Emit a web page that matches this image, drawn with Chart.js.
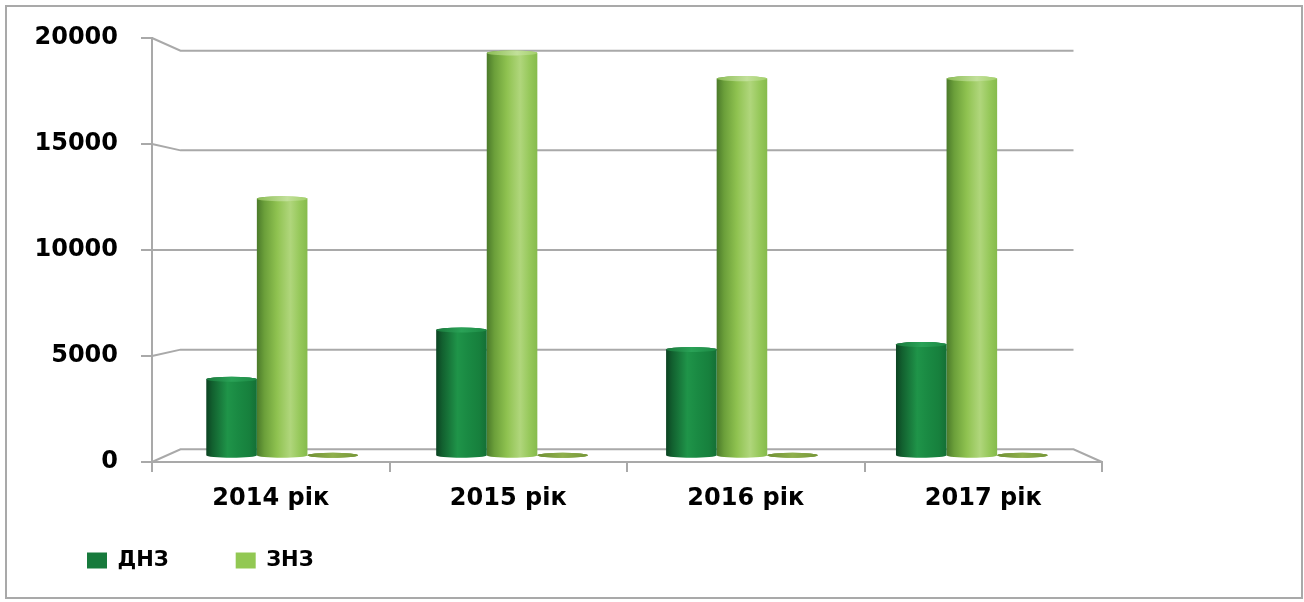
<!DOCTYPE html>
<html>
<head>
<meta charset="utf-8">
<script src="https://cdn.jsdelivr.net/npm/chart.js@4/dist/chart.umd.min.js"></script>
<style>
  html, body { margin: 0; padding: 0; background: #fff; }
  canvas { display: block; }
</style>
</head>
<body>
<canvas id="chart" width="1304" height="602"></canvas>
<script>
// Categories, series and tick labels
const categories = ['2014 рік', '2015 рік', '2016 рік', '2017 рік'];
const seriesNames = ['ДНЗ', 'ЗНЗ'];
const dnzValues = [3700, 6100, 5150, 5400];
const znzValues = [12500, 19600, 18350, 18350];
const extraValues = [0, 0, 0, 0];
const yTickValues = [0, 5000, 10000, 15000, 20000];

// Colours
const DNZ_COLOR = '#177a3c';
const ZNZ_COLOR = '#92c853';
const EXTRA_COLOR = '#7d9d3c';
const FRAME_COLOR = '#a9a9a9';
const FONT = 'DejaVu Sans';

// Cylinder shading (left to right)
const shading = {
  [DNZ_COLOR]: {
    body: [[0, '#0c4322'], [0.12, '#12602f'], [0.42, '#1f9449'], [0.62, '#1a8a43'], [0.85, '#17803d'], [1, '#146f35']],
    cap:  [[0, '#1a7a3d'], [0.5, '#2aa257'], [1, '#1d8a45']]
  },
  [ZNZ_COLOR]: {
    body: [[0, '#4b7a2a'], [0.15, '#6b9f3a'], [0.4, '#8fc250'], [0.66, '#b0d67c'], [0.85, '#96c85a'], [1, '#86bb4c']],
    cap:  [[0, '#8cbd55'], [0.6, '#c2e09a'], [1, '#a3d06a']]
  },
  [EXTRA_COLOR]: {
    body: [[0, '#6f8f33'], [0.5, '#8aab48'], [1, '#769638']],
    cap:  [[0, '#6f8f33'], [0.5, '#8fb04c'], [1, '#769638']]
  }
};

// Depth of the bar row and of the back wall relative to the front plane
const BAR_DEPTH = 0.968;
const BACK_DEPTH = 0.94;
const CAP_RY = 2.5;

// Legend geometry
const LEGEND_FONT_SIZE = 21;
const LEGEND_BOX_W = 20;
const LEGEND_BOX_H = 16;
const LEGEND_ROW_TOP = 550;
const LEGEND_FIRST_X = 87;
const LEGEND_SECOND_X = 236;
const measureCtx = document.createElement('canvas').getContext('2d');
measureCtx.font = 'bold ' + LEGEND_FONT_SIZE + 'px "' + FONT + '"';
const firstLegendTextW = measureCtx.measureText(seriesNames[0]).width;
const legendPad = Math.round(LEGEND_SECOND_X - LEGEND_FIRST_X - LEGEND_BOX_W - LEGEND_FONT_SIZE / 2 - firstLegendTextW);
const leftPad = LEGEND_FIRST_X - legendPad;

function gradient(ctx, left, right, stops) {
  const g = ctx.createLinearGradient(left, 0, right, 0);
  stops.forEach(([o, c]) => g.addColorStop(o, c));
  return g;
}

function drawCylinder(ctx, bar, color) {
  const { x, y, base, width } = bar.getProps(['x', 'y', 'base', 'width'], true);
  const rx = width / 2;
  const left = x - rx, right = x + rx;
  const shade = shading[color];
  const top = Math.min(y, base);
  ctx.save();
  ctx.fillStyle = gradient(ctx, left, right, shade.body);
  ctx.beginPath();
  ctx.moveTo(left, top);
  ctx.lineTo(left, base);
  ctx.ellipse(x, base, rx, CAP_RY, 0, Math.PI, 0, true);
  ctx.lineTo(right, top);
  ctx.ellipse(x, top, rx, CAP_RY, 0, 0, Math.PI, true);
  ctx.closePath();
  ctx.fill();
  ctx.fillStyle = gradient(ctx, left, right, shade.cap);
  ctx.beginPath();
  ctx.ellipse(x, top, rx, CAP_RY, 0, 0, Math.PI * 2);
  ctx.fill();
  ctx.restore();
}

// Frame: outer border, back wall gridlines and floor in perspective
const framePlugin = {
  id: 'frame3d',
  afterLayout(chart) {
    // keep the legend row at a fixed height below the category labels
    const lg = chart.legend;
    lg.top = LEGEND_ROW_TOP - legendPad;
    lg.bottom = chart.height;
    lg.height = lg.bottom - lg.top;
  },
  beforeDraw(chart) {
    const ctx = chart.ctx;
    ctx.save();
    ctx.fillStyle = '#ffffff';
    ctx.fillRect(0, 0, chart.width, chart.height);
    ctx.strokeStyle = FRAME_COLOR;
    ctx.lineWidth = 2;
    ctx.strokeRect(6, 6, chart.width - 8, chart.height - 10);
    ctx.restore();
  },
  beforeDatasetsDraw(chart) {
    const ctx = chart.ctx;
    const area = chart.chartArea;
    const yScale = chart.scales.y;
    const cx = (area.left + area.right) / 2;
    const cy = (area.top + area.bottom) / 2;
    const backL = cx + (area.left - cx) * BACK_DEPTH;
    const backR = cx + (area.right - cx) * BACK_DEPTH;
    ctx.save();
    ctx.strokeStyle = FRAME_COLOR;
    ctx.lineWidth = 2;
    yTickValues.forEach(v => {
      const yf = yScale.getPixelForValue(v);
      const yb = cy + (yf - cy) * BACK_DEPTH;
      ctx.beginPath();
      ctx.moveTo(area.left, yf);
      ctx.lineTo(backL, yb);
      ctx.lineTo(backR, yb);
      if (v === 0) ctx.lineTo(area.right, yf);
      ctx.stroke();
    });
    ctx.restore();
  },
  beforeDatasetDraw(chart, args) {
    const ds = chart.data.datasets[args.index];
    args.meta.data.forEach(bar => drawCylinder(chart.ctx, bar, ds.backgroundColor));
    return false;
  }
};

const toPoints = arr => arr.map((v, i) => ({ x: i, y: v }));
const halfX = (categories.length / 2) / BAR_DEPTH;
const midX = (categories.length - 1) / 2;
const midY = (yTickValues[0] + yTickValues[yTickValues.length - 1]) / 2;
const halfY = (yTickValues[yTickValues.length - 1] - yTickValues[0]) / 2 / BAR_DEPTH;

const barDefaults = { xAxisID: 'xb', yAxisID: 'yb', borderWidth: 0, categoryPercentage: 0.66, barPercentage: 1 };

new Chart(document.getElementById('chart'), {
  type: 'bar',
  data: {
    labels: categories,
    datasets: [
      { ...barDefaults, label: seriesNames[0], data: toPoints(dnzValues), backgroundColor: DNZ_COLOR },
      { ...barDefaults, label: seriesNames[1], data: toPoints(znzValues), backgroundColor: ZNZ_COLOR },
      { ...barDefaults, label: '', data: toPoints(extraValues), backgroundColor: EXTRA_COLOR }
    ]
  },
  options: {
    responsive: false,
    animation: false,
    devicePixelRatio: 1,
    layout: { padding: { top: 38, right: 202, bottom: 0, left: leftPad } },
    plugins: {
      tooltip: { enabled: false },
      legend: {
        position: 'bottom',
        align: 'start',
        maxHeight: 80,
        labels: {
          boxWidth: LEGEND_BOX_W,
          boxHeight: LEGEND_BOX_H,
          padding: legendPad,
          color: '#000',
          font: { family: FONT, size: LEGEND_FONT_SIZE, weight: 'bold' },
          filter: item => item.text !== ''
        }
      }
    },
    scales: {
      x: {
        type: 'category',
        offset: true,
        grid: { offset: true, drawOnChartArea: false, tickLength: 10, color: FRAME_COLOR, lineWidth: 2 },
        border: { display: true, color: FRAME_COLOR, width: 2 },
        ticks: { color: '#000', padding: 12, maxRotation: 0, font: { family: FONT, size: 24, weight: 'bold' } },
        afterFit: s => { s.height = 60; }
      },
      y: {
        type: 'linear',
        min: yTickValues[0],
        max: yTickValues[yTickValues.length - 1],
        afterBuildTicks: s => { s.ticks = yTickValues.map(v => ({ value: v })); },
        grid: { drawOnChartArea: false, tickLength: 11, color: FRAME_COLOR, lineWidth: 2 },
        border: { display: true, color: FRAME_COLOR, width: 2 },
        ticks: { color: '#000', padding: 23, font: { family: FONT, size: 24, weight: 'bold' }, callback: v => String(v) },
        afterFit: s => { s.width = 152 - leftPad; }
      },
      xb: {
        type: 'linear', axis: 'x', display: false, offset: false,
        min: midX - halfX, max: midX + halfX,
        afterBuildTicks: s => { s.ticks = categories.map((_, i) => ({ value: i })); }
      },
      yb: { type: 'linear', axis: 'y', position: 'right', display: false, min: midY - halfY, max: midY + halfY }
    }
  },
  plugins: [framePlugin]
});
</script>
</body>
</html>
